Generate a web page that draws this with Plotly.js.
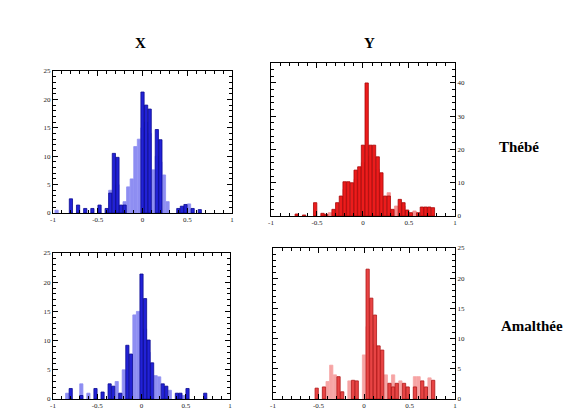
<!DOCTYPE html>
<html>
<head>
<meta charset="utf-8">
<script src="https://cdn.plot.ly/plotly-3.0.1.min.js"></script>
<style>html,body{margin:0;padding:0;background:#fff;}#chart{width:575px;height:414px;}</style>
</head>
<body>
<div id="chart"></div>
<script>
// Column titles and row labels
const columnTitles = ["X", "Y"];
const rowLabels = ["Thébé", "Amalthée"];
const xTickVals = [-1, -0.5, 0, 0.5, 1];
const xTickText = ["-1", "-0.5", "0", "0.5", "1"];

// Thébé, X (blue)
const thebeX_darkX = [-0.80,-0.72,-0.64,-0.56,-0.48,-0.40,-0.36,-0.32,-0.28,-0.24,-0.20,0.00,0.04,0.08,0.16,0.20,0.40,0.44,0.48,0.56,0.64];
const thebeX_darkY = [2.5,1.4,0.8,0.8,1.4,0.8,3.5,10.5,9.8,1.4,1.4,21.3,19,18.3,14.7,12.9,0.8,1.2,1.5,0.8,0.6];
const thebeX_lightX = [-0.96,-0.36,-0.28,-0.20,-0.16,-0.12,-0.08,-0.04,0.00,0.04,0.08,0.12,0.16,0.20,0.24,0.28,0.52];
const thebeX_lightY = [0.5,4,5,2,4.6,6,11.7,13,15,16,14,7.6,10,9,6.7,2,1.6];

// Thébé, Y (red)
const thebeY_darkX = [-0.72,-0.64,-0.52,-0.44,-0.40,-0.32,-0.28,-0.24,-0.20,-0.16,-0.12,-0.08,-0.04,0.00,0.04,0.08,0.12,0.16,0.20,0.24,0.28,0.32,0.40,0.44,0.48,0.52,0.60,0.64,0.68,0.72,0.76];
const thebeY_darkY = [0.6,0.3,4,0.8,0.5,2,4,6,10.3,10.3,10,13.8,14.8,21.3,40,21.3,21.3,17.8,13,6,6,2,5,4,1.8,1,1,2.7,2.7,2.7,2.5];
const thebeY_lightX = [-0.36,-0.20,-0.08,0.00,0.08,0.16,0.28,0.36,0.44,0.56];
const thebeY_lightY = [1,8,11,16,18,14,7,3,3,1.5];

// Amalthée, X (blue)
const amaltheeX_darkX = [-0.80,-0.68,-0.52,-0.44,-0.36,-0.32,-0.24,-0.16,-0.12,0.00,0.04,0.08,0.12,0.24,0.28,0.40,0.44,0.52,0.72];
const amaltheeX_darkY = [1.8,0.6,1.8,1.2,2.6,2.2,1,9.2,7.7,21.4,17.2,10.1,6.2,2.6,2.2,1,1,1.8,1];
const amaltheeX_lightX = [-0.84,-0.68,-0.60,-0.28,-0.20,-0.08,-0.04,0.04,0.08,0.16,0.20,0.32,0.48];
const amaltheeX_lightY = [1,2.6,1,3,5,14.4,15,12,8,4,3.8,1.5,0.6];

// Amalthée, Y (red)
const amaltheeY_darkX = [-0.52,-0.44,-0.28,-0.24,-0.12,-0.08,0.04,0.08,0.12,0.16,0.20,0.28,0.32,0.36,0.44,0.48,0.56,0.64,0.68,0.76];
const amaltheeY_darkY = [1.8,2,3.7,1.2,3.1,3,21.5,16.7,13.9,8.8,8.1,2.6,2,2.6,2.6,2,2,3,2,3.1];
const amaltheeY_lightX = [-0.40,-0.36,-0.32,-0.16,0.00,0.04,0.12,0.16,0.24,0.32,0.40,0.56,0.60,0.72];
const amaltheeY_lightY = [2.9,5.6,4,3,7.3,12,9,7.3,4,4,3,3.7,3.7,3.5];

const yTicks = {
  tl: [0,5,10,15,20,25],
  tr: [0,10,20,30,40],
  bl: [0,5,10,15,20,25],
  br: [0,5,10,15,20,25]
};

const BLUE = "#2222d6", BLUE_LINE = "#0a0a90", BLUE_LIGHT = "#8e8ef2";
const RED = "#ec1c1c", RED_LINE = "#a80808", RED_LIGHT = "#f59090";
const RED2 = "#e84444", RED2_LINE = "#b01818", RED2_LIGHT = "#f6a4a4";
const W = 0.036;

function bars(x, y, xa, ya, color, line) {
  return {type: "bar", x: x, y: y, width: W, xaxis: xa, yaxis: ya,
    marker: {color: color, line: {color: line, width: 0.8}},
    hoverinfo: "skip", showlegend: false};
}

const data = [
  bars(thebeX_lightX, thebeX_lightY, "x", "y", BLUE_LIGHT, BLUE_LIGHT),
  bars(thebeX_darkX, thebeX_darkY, "x", "y", BLUE, BLUE_LINE),
  bars(thebeY_lightX, thebeY_lightY, "x2", "y2", RED_LIGHT, RED_LIGHT),
  bars(thebeY_darkX, thebeY_darkY, "x2", "y2", RED, RED_LINE),
  bars(amaltheeX_lightX, amaltheeX_lightY, "x3", "y3", BLUE_LIGHT, BLUE_LIGHT),
  bars(amaltheeX_darkX, amaltheeX_darkY, "x3", "y3", BLUE, BLUE_LINE),
  bars(amaltheeY_lightX, amaltheeY_lightY, "x4", "y4", RED2_LIGHT, RED2_LIGHT),
  bars(amaltheeY_darkX, amaltheeY_darkY, "x4", "y4", RED2, RED2_LINE)
];

const serif = "Liberation Serif, DejaVu Serif, serif";
const tickFont = {family: serif, size: 7, color: "#222"};

function xAxis(domain, anchor) {
  return {domain: domain, anchor: anchor, range: [-1, 1], tickvals: xTickVals, ticktext: xTickText,
    color: "#000", ticks: "inside", ticklen: 5, tickcolor: "#000", showline: true, linecolor: "#000", linewidth: 1,
    mirror: "ticks", showgrid: false, zeroline: false, tickfont: tickFont, fixedrange: true,
    minor: {ticks: "inside", ticklen: 3, dtick: 0.1, tickcolor: "#000", showgrid: false}};
}
function yAxis(domain, anchor, range, tv, side) {
  return {domain: domain, anchor: anchor, range: range, tickvals: tv, side: side,
    color: "#000", ticks: "inside", ticklen: 5, tickcolor: "#000", showline: true, linecolor: "#000", linewidth: 1,
    mirror: "ticks", showgrid: false, zeroline: false, tickfont: tickFont, fixedrange: true,
    minor: {ticks: "inside", ticklen: 3, dtick: (tv[1]-tv[0])/5, tickcolor: "#000", showgrid: false}};
}

const layout = {
  width: 575, height: 414,
  margin: {l: 0, r: 0, t: 0, b: 0},
  paper_bgcolor: "#fff", plot_bgcolor: "#fff",
  barmode: "overlay", bargap: 0,
  showlegend: false,
  xaxis: xAxis([0.0922, 0.4035], "y"),
  yaxis: yAxis([0.4855, 0.8285], "x", [0, 25], yTicks.tl, "left"),
  xaxis2: xAxis([0.4713, 0.7913], "y2"),
  yaxis2: yAxis([0.4783, 0.8478], "x2", [0, 46], yTicks.tr, "right"),
  xaxis3: xAxis([0.0922, 0.4000], "y3"),
  yaxis3: yAxis([0.0362, 0.3889], "x3", [0, 25], yTicks.bl, "left"),
  xaxis4: xAxis([0.4748, 0.7913], "y4"),
  yaxis4: yAxis([0.0362, 0.4010], "x4", [0, 25], yTicks.br, "right"),
  annotations: [
    {text: "<b>" + columnTitles[0] + "</b>", xref: "paper", yref: "paper", x: 140/575, y: 1 - 43/414,
     xanchor: "center", yanchor: "middle", showarrow: false, font: {family: serif, size: 15, color: "#000"}},
    {text: "<b>" + columnTitles[1] + "</b>", xref: "paper", yref: "paper", x: 370/575, y: 1 - 43/414,
     xanchor: "center", yanchor: "middle", showarrow: false, font: {family: serif, size: 15, color: "#000"}},
    {text: "<b>" + rowLabels[0] + "</b>", xref: "paper", yref: "paper", x: 519/575, y: 1 - 147/414,
     xanchor: "center", yanchor: "middle", showarrow: false, font: {family: serif, size: 15, color: "#000"}},
    {text: "<b>" + rowLabels[1] + "</b>", xref: "paper", yref: "paper", x: 532/575, y: 1 - 326/414,
     xanchor: "center", yanchor: "middle", showarrow: false, font: {family: serif, size: 15, color: "#000"}}
  ]
};

Plotly.newPlot("chart", data, layout, {staticPlot: true, displayModeBar: false});
</script>
</body>
</html>
